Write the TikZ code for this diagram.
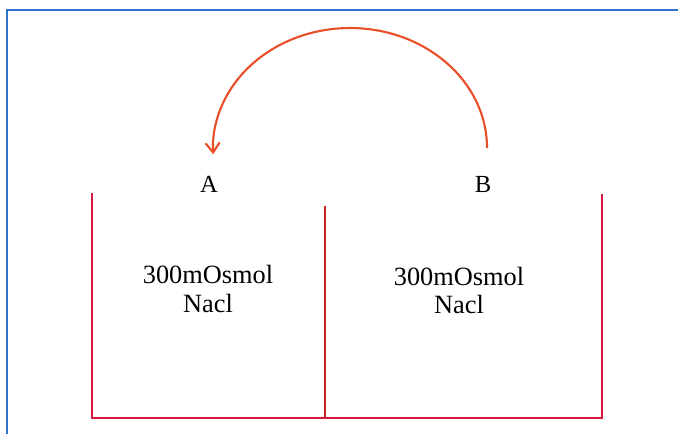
\documentclass[tikz,border=0pt]{standalone}
\usepackage{fontspec}
\setmainfont{Liberation Serif}
\usepackage{tikz}
\usetikzlibrary{arrows.meta}

\definecolor{framblue}{RGB}{45,115,205}
\definecolor{wallred}{RGB}{215,25,60}
\definecolor{membred}{RGB}{200,35,30}
\definecolor{flowred}{RGB}{232,78,40}

\begin{document}
\begin{tikzpicture}[
      x=0.02cm, y=0.02cm,
      wall/.style={draw=wallred, line width=1.1pt},
      memb/.style={draw=membred, line width=1.1pt},
      flow/.style={draw=flowred, line width=1.2pt, -{Straight Barb[length=5.5pt,width=8pt]}},
      side/.style={font=\fontsize{14}{16}\selectfont, inner sep=0pt, anchor=base},
      sol/.style={font=\fontsize{15}{17}\selectfont, inner sep=0pt, anchor=base}]
    \useasboundingbox (0,0) rectangle (678,434);
    % frame
    \draw[framblue, line width=1.2pt] (7,0) -- (7,424) -- (678,424);
    % container corners
    \coordinate (lt) at (92,241);
    \coordinate (lb) at (92,16);
    \coordinate (rb) at (602,16);
    \coordinate (rt) at (602,240);
    \coordinate (mt) at (325,228);
    \coordinate (mb) at (325,16);
    \draw[wall] (lt) -- (lb) -- (rb) -- (rt);
    \draw[memb] (mt) -- (mb);
    % compartment labels
    \node[side] (sideA) at (209,242) {A};
    \node[side] (sideB) at (483,242) {B};
    \node[sol] (concA) at (208,151) {300mOsmol};
    \node[sol] (saltA) at (208,122) {Nacl};
    \node[sol] (concB) at (459,149) {300mOsmol};
    \node[sol] (saltB) at (459,121) {Nacl};
    % water movement B -> A
    \coordinate (arcB) at (487,286);
    \draw[flow] (arcB) arc[start angle=0, end angle=183, x radius=2.74cm, y radius=2.4cm];
  \end{tikzpicture}
\end{document}
